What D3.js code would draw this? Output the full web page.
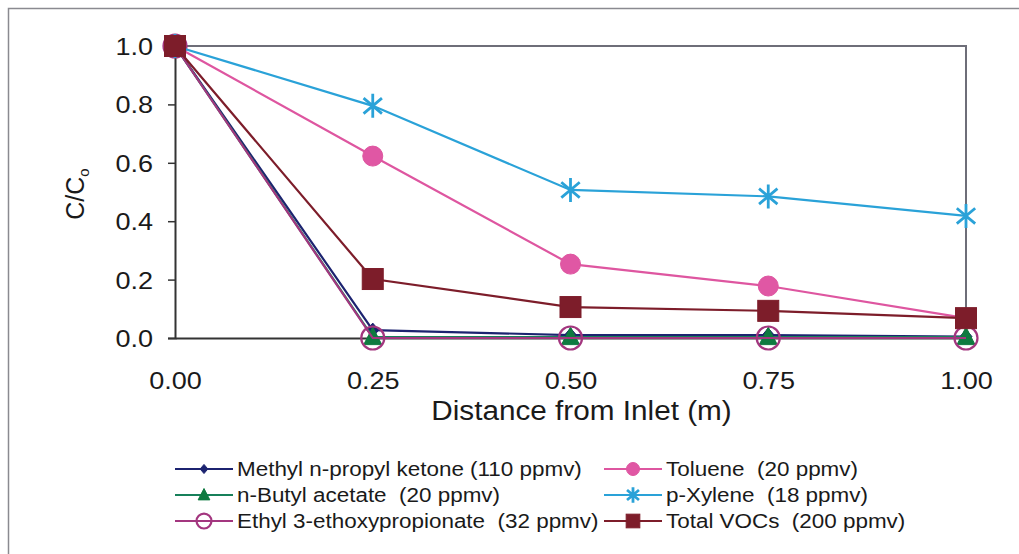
<!DOCTYPE html>
<html><head><meta charset="utf-8">
<script src="https://cdn.jsdelivr.net/npm/d3@7"></script>
<style>body{margin:0;background:#fff;} svg{display:block;font-family:"Liberation Sans",Arial,sans-serif;} text{white-space:pre;}</style>
</head><body>
<svg id="c" width="1019" height="554"></svg>
<script>
const distances = [0.00, 0.25, 0.50, 0.75, 1.00];
const xTicks = [0.00, 0.25, 0.50, 0.75, 1.00];
const yTicks = [0.0, 0.2, 0.4, 0.6, 0.8, 1.0];
const seriesNames = ["Methyl n-propyl ketone (110 ppmv)", "n-Butyl acetate  (20 ppmv)", "Ethyl 3-ethoxypropionate  (32 ppmv)", "Toluene  (20 ppmv)", "p-Xylene  (18 ppmv)", "Total VOCs  (200 ppmv)"];
const methylKetone = [1.0, 0.027, 0.01, 0.01, 0.005];
const butylAcetate = [1.0, 0.003, 0.003, 0.003, 0.003];
const ethylEthoxy = [1.0, 0.0, 0.0, 0.0, 0.0];
const toluene = [1.0, 0.623, 0.253, 0.178, 0.068];
const pXylene = [1.0, 0.795, 0.507, 0.485, 0.418];
const totalVOCs = [1.0, 0.202, 0.106, 0.093, 0.068];
const seriesValues = [methylKetone, butylAcetate, ethylEthoxy, toluene, pXylene, totalVOCs];
const seriesColors = ["#1c2370", "#17805a", "#a3367f", "#de56a0", "#2aa2d8", "#7d1d2a"];
const markerFills = ["#1c2370", "#0e7a40", "none", "#e057a4", "none", "#7d1d2a"];
const markerTypes = ["diamond", "triangle", "ocircle", "circle", "star", "square"];

const STRETCH = 1.15;
function stretch(sel, k){
  sel.each(function(){
    const w = this.getComputedTextLength();
    d3.select(this).attr("textLength", w*(k||STRETCH)).attr("lengthAdjust","spacingAndGlyphs");
  });
}

const svg = d3.select("#c");
svg.append("path").attr("d","M8.5,554 V8.5 H1019").attr("fill","none").attr("stroke","#8a8a90").attr("stroke-width",1.5);

const L=175, R=966, T=46, B=338;
const x = d3.scaleLinear().domain([0,1]).range([L,R]);
const y = d3.scaleLinear().domain([0,1]).range([B,T]);

svg.append("path").attr("d",`M${L},${T} H${R} V${B}`).attr("fill","none").attr("stroke","#6e6e78").attr("stroke-width",2);

const yAxis = d3.axisLeft(y).tickValues(yTicks).tickFormat(d3.format(".1f")).tickSize(7).tickPadding(15);
const gy = svg.append("g").attr("transform",`translate(${L},0)`).call(yAxis);
const xAxis = d3.axisBottom(x).tickValues(xTicks).tickFormat(d3.format(".2f")).tickSize(0).tickPadding(34);
const gx = svg.append("g").attr("transform",`translate(0,${B})`).call(xAxis);
[gx,gy].forEach(g=>{
  g.select(".domain").attr("stroke","#333").attr("stroke-width",2);
  g.selectAll(".tick line").attr("stroke","#333").attr("stroke-width",1.5);
  g.selectAll(".tick text").attr("fill","#1a1a1a").style("font-size","23.5px").style("font-family","Liberation Sans, Arial, sans-serif");
});
gy.selectAll(".tick text").attr("dy","0.36em");
stretch(gy.selectAll(".tick text"));
stretch(gx.selectAll(".tick text"));

const xt = svg.append("text").attr("x",(L+R)/2 + 11).attr("y",420).attr("text-anchor","middle").attr("fill","#1a1a1a").style("font-size","27px").text("Distance from Inlet (m)");
stretch(xt, 1.1);
const yt = svg.append("text").attr("transform","translate(84,194) rotate(-90)").attr("text-anchor","middle").attr("fill","#1a1a1a").style("font-size","25px");
yt.append("tspan").text("C/C");
yt.append("tspan").attr("font-size","15px").attr("dy","5").text("o");

function marker(g, type, color, fill, cx, cy, scale){
  const s = scale||1;
  if(type==="diamond"){
    const r=7*s;
    g.append("path").attr("d",`M${cx},${cy-r} L${cx+r*0.85},${cy} L${cx},${cy+r} L${cx-r*0.85},${cy} Z`).attr("fill",fill).attr("stroke",color).attr("stroke-width",1);
  } else if(type==="triangle"){
    const r=10*s;
    g.append("path").attr("d",`M${cx},${cy-r} L${cx+r*0.9},${cy+r*0.75} L${cx-r*0.9},${cy+r*0.75} Z`).attr("fill",fill).attr("stroke",fill).attr("stroke-width",1);
  } else if(type==="ocircle"){
    g.append("circle").attr("cx",cx).attr("cy",cy).attr("r",11.5*s).attr("fill","none").attr("stroke",color).attr("stroke-width",2.2);
  } else if(type==="circle"){
    g.append("circle").attr("cx",cx).attr("cy",cy).attr("r",10*s).attr("fill",fill).attr("stroke",color).attr("stroke-width",1);
  } else if(type==="star"){
    const r=12*s;
    const p=[`M${cx},${cy-r} L${cx},${cy+r}`];
    for(const a of [40,140]){
      const rad=a*Math.PI/180;
      p.push(`M${cx-r*Math.cos(rad)},${cy-r*Math.sin(rad)} L${cx+r*Math.cos(rad)},${cy+r*Math.sin(rad)}`);
    }
    g.append("path").attr("d",p.join(" ")).attr("stroke",color).attr("stroke-width",2.8).attr("fill","none");
  } else if(type==="square"){
    const r=10.5*s;
    g.append("rect").attr("x",cx-r).attr("y",cy-r).attr("width",2*r).attr("height",2*r).attr("fill",fill).attr("stroke",color);
  }
}

const line = d3.line().x((d,i)=>x(distances[i])).y(d=>y(d));
seriesValues.forEach((vals,si)=>{
  const g = svg.append("g");
  g.append("path").attr("d",line(vals)).attr("fill","none").attr("stroke",seriesColors[si]).attr("stroke-width",2.2);
  vals.forEach((v,i)=>marker(g, markerTypes[si], seriesColors[si], markerFills[si], x(distances[i]), y(v)));
});

const legX = [175, 604];
const legY = [469, 495, 521];
seriesNames.forEach((name,si)=>{
  const col = si<3?0:1, row = si%3;
  const lx = legX[col], ly = legY[row];
  const g = svg.append("g");
  g.append("line").attr("x1",lx).attr("x2",lx+58).attr("y1",ly).attr("y2",ly).attr("stroke",seriesColors[si]).attr("stroke-width",2.2);
  marker(g, markerTypes[si], seriesColors[si], markerFills[si], lx+29, ly, 0.65);
  const t = g.append("text").attr("x",lx+62).attr("y",ly).attr("dy","0.36em").attr("fill","#1a1a1a").style("font-size","19.5px").text(name);
  stretch(t, 1.15);
});
</script>
</body></html>
